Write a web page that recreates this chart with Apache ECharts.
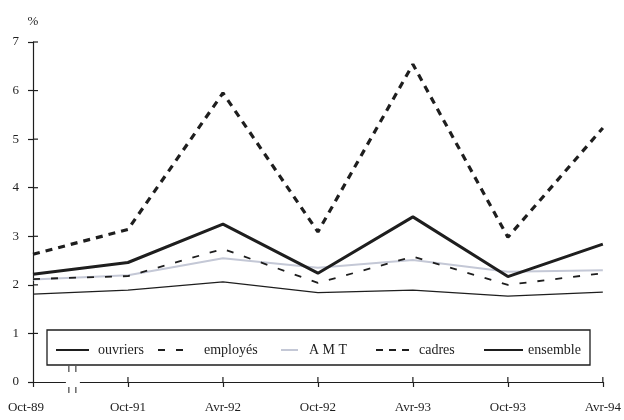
<!DOCTYPE html>
<html>
<head>
<meta charset="utf-8">
<script src="https://cdn.jsdelivr.net/npm/echarts@6/dist/echarts.min.js"></script>
<style>
html,body{margin:0;padding:0;background:#ffffff;}
#c{width:624px;height:420px;}
</style>
</head>
<body>
<div id="c"></div>
<script>
var categories = ['Oct-89', 'Oct-91', 'Avr-92', 'Oct-92', 'Avr-93', 'Oct-93', 'Avr-94'];
var yTicks = [0, 1, 2, 3, 4, 5, 6, 7];
var ouvriers = [1.81, 1.89, 2.06, 1.84, 1.89, 1.77, 1.85];
var employes = [2.12, 2.18, 2.74, 2.04, 2.58, 2.00, 2.24];
var amt = [2.11, 2.20, 2.55, 2.35, 2.51, 2.27, 2.30];
var cadres = [2.63, 3.14, 5.95, 3.09, 6.54, 2.98, 5.23];
var ensemble = [2.22, 2.46, 3.25, 2.24, 3.40, 2.17, 2.84];

var FONT = 'Liberation Serif';
var INK = '#1e1e1e';
var chart = echarts.init(document.getElementById('c'), null, {renderer: 'canvas'});

function legendItem(name, left, w, gap) {
  return {
    data: [name], left: left, top: 343, padding: 0,
    itemWidth: w, itemHeight: 14, selectedMode: false,
    itemStyle: {color: 'rgba(0,0,0,0)', borderColor: 'rgba(0,0,0,0)', borderWidth: 0, opacity: 0},
    textStyle: {fontFamily: FONT, fontSize: 14, color: INK, padding: [0, 0, 0, gap]}
  };
}

chart.setOption({
  animation: false,
  backgroundColor: '#ffffff',
  grid: {left: 33, right: 20, top: 42, bottom: 38},
  xAxis: {
    type: 'category', data: categories, boundaryGap: false, position: 'bottom',
    axisLine: {show: true, lineStyle: {color: INK, width: 1.2}},
    axisTick: {show: true, length: 5, alignWithLabel: true, lineStyle: {color: INK, width: 1.2}},
    axisLabel: {fontFamily: FONT, fontSize: 13, color: INK, margin: 19,
      formatter: function (v, i) { return i === 0 ? '{a|' + v + '}' : v; },
      rich: {a: {fontFamily: FONT, fontSize: 13, color: INK, padding: [0, 14, 0, 0]}}}
  },
  yAxis: {
    type: 'value', min: 0, max: 7, interval: 1, position: 'left',
    splitLine: {show: false},
    axisLine: {show: true, lineStyle: {color: INK, width: 1.2}},
    axisTick: {show: true, length: 5, lineStyle: {color: INK, width: 1.2}},
    name: '%', nameLocation: 'end', nameGap: 14,
    nameTextStyle: {fontFamily: FONT, fontSize: 13, color: INK, align: 'center'},
    axisLabel: {fontFamily: FONT, fontSize: 13, color: INK, margin: 14,
      formatter: function (v) { return yTicks.indexOf(v) >= 0 ? String(v) : ''; }}
  },
  legend: [
    legendItem('ouvriers', 55, 33, 4),
    legendItem('employés', 157, 30, 11),
    legendItem('A M T', 280, 17, 6),
    legendItem('cadres', 375, 37, 1),
    legendItem('ensemble', 483, 39, 0)
  ],
  series: [
    {name: 'ouvriers', type: 'line', data: ouvriers, symbol: 'none', z: 3,
      lineStyle: {color: INK, width: 1.3}, itemStyle: {color: INK}},
    {name: 'A M T', type: 'line', data: amt, symbol: 'none', z: 2,
      lineStyle: {color: '#c4c8d6', width: 2}, itemStyle: {color: '#c4c8d6'}},
    {name: 'employés', type: 'line', data: employes, symbol: 'none', z: 4,
      lineStyle: {color: INK, width: 1.8, type: [7, 11]}, itemStyle: {color: INK}},
    {name: 'cadres', type: 'line', data: cadres, symbol: 'none', z: 5,
      lineStyle: {color: INK, width: 3.2, type: [7, 6]}, itemStyle: {color: INK}},
    {name: 'ensemble', type: 'line', data: ensemble, symbol: 'none', z: 6,
      lineStyle: {color: INK, width: 3}, itemStyle: {color: INK}}
  ]
});

// decorations: inner halves of the crossing ticks, legend frame, axis break
var gfx = [];
var origin = chart.convertToPixel({xAxisIndex: 0, yAxisIndex: 0}, [0, 0]);
yTicks.forEach(function (t) {
  if (t === 0) return;
  var p = chart.convertToPixel({xAxisIndex: 0, yAxisIndex: 0}, [0, t]);
  gfx.push({type: 'line', shape: {x1: origin[0], y1: p[1], x2: origin[0] + 5, y2: p[1]},
    style: {stroke: INK, lineWidth: 1.2}, z: 50});
});
categories.forEach(function (c, i) {
  if (i === 0) return;
  var p = chart.convertToPixel({xAxisIndex: 0, yAxisIndex: 0}, [i, 0]);
  gfx.push({type: 'line', shape: {x1: p[0], y1: origin[1], x2: p[0], y2: origin[1] - 5},
    style: {stroke: INK, lineWidth: 1.2}, z: 50});
});
var p1 = chart.convertToPixel({xAxisIndex: 0, yAxisIndex: 0}, [1, 0]);
var bx = origin[0] + (p1[0] - origin[0]) * 0.42;
var by = origin[1];
gfx.push(
  {type: 'rect', shape: {x: 47, y: 330, width: 543, height: 35},
    style: {fill: null, stroke: INK, lineWidth: 1.3}, z: 1},
  {type: 'rect', shape: {x: bx - 7, y: by - 6, width: 14, height: 12},
    style: {fill: '#ffffff'}, z: 100},
  {type: 'line', shape: {x1: bx - 4, y1: by - 16, x2: bx - 4, y2: by - 10}, style: {stroke: INK, lineWidth: 1}, z: 100},
  {type: 'line', shape: {x1: bx + 3, y1: by - 16, x2: bx + 3, y2: by - 10}, style: {stroke: INK, lineWidth: 1}, z: 100},
  {type: 'line', shape: {x1: bx - 4, y1: by + 5, x2: bx - 4, y2: by + 11}, style: {stroke: INK, lineWidth: 1}, z: 100},
  {type: 'line', shape: {x1: bx + 3, y1: by + 5, x2: bx + 3, y2: by + 11}, style: {stroke: INK, lineWidth: 1}, z: 100}
);
chart.setOption({graphic: gfx});
</script>
</body>
</html>
